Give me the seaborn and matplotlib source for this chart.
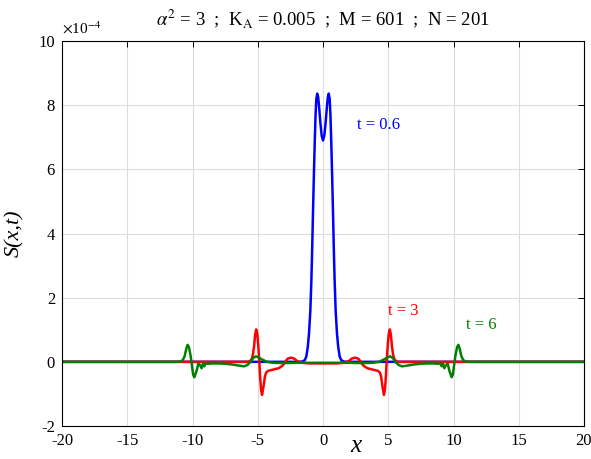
import matplotlib
matplotlib.use("Agg")
import matplotlib.pyplot as plt
import seaborn as sns
import pandas as pd

# ---- data (values in units of 1e-4) ----
x_t06 = [-20, -1.8, -1.6, -1.4, -1.28, -1.17, -1.07, -0.97, -0.89, -0.83, -0.77, -0.7, -0.63, -0.57,
         -0.51, -0.44, -0.37, -0.3, -0.2, -0.1, 0.0, 0.1, 0.2, 0.3, 0.37, 0.44, 0.51, 0.57, 0.63,
         0.7, 0.77, 0.83, 0.89, 0.97, 1.07, 1.17, 1.28, 1.4, 1.6, 1.8, 20]
s_t06 = [0, 0, 0.01, 0.05, 0.16, 0.45, 0.89, 1.6, 2.55, 3.5, 4.6, 5.8, 6.9, 7.7,
         8.2, 8.36, 8.25, 7.95, 7.45, 7.05, 6.9, 7.05, 7.45, 7.95, 8.25, 8.36, 8.2, 7.7, 6.9,
         5.8, 4.6, 3.5, 2.55, 1.6, 0.89, 0.45, 0.16, 0.05, 0.01, 0, 0]

x_t3 = [-20, -5.8, -5.6, -5.45, -5.36, -5.28, -5.2, -5.12, -5.03, -4.95, -4.88, -4.82, -4.75, -4.67,
        -4.55, -4.45, -4.35, -4.2, -3.8, -3.4, -3.1, -2.9, -2.7, -2.45, -2.2, -2.0, -1.6, -1.0,
        0.0, 1.0, 1.6, 2.0, 2.2, 2.45, 2.7, 2.9, 3.1, 3.4, 3.8, 4.2, 4.35, 4.45, 4.55, 4.67,
        4.75, 4.82, 4.88, 4.95, 5.03, 5.12, 5.2, 5.28, 5.36, 5.45, 5.6, 5.8, 20]
s_t3 = [0, 0, 0.02, 0.1, 0.25, 0.5, 0.85, 1.01, 0.85, 0.45, 0.0, -0.45, -0.85, -1.03,
        -0.75, -0.45, -0.33, -0.28, -0.24, -0.2, -0.12, 0.0, 0.1, 0.13, 0.1, 0.03, -0.03, -0.05,
        -0.05, -0.05, -0.03, 0.03, 0.1, 0.13, 0.1, 0.0, -0.12, -0.2, -0.24, -0.28, -0.33, -0.45, -0.75, -1.03,
        -0.85, -0.45, 0.0, 0.45, 0.85, 1.01, 0.85, 0.5, 0.25, 0.1, 0.02, 0, 0]

x_t6 = [-20, -11.3, -10.95, -10.75, -10.6, -10.47, -10.37, -10.27, -10.15, -10.05, -9.95, -9.86,
        -9.7, -9.55, -9.4, -9.3, -9.2, -9.1, -9.0, -8.8, -8.5, -8.0, -7.5, -7.0, -6.4, -6.05, -5.8,
        -5.55, -5.35, -5.15, -5.0, -4.7, -4.3, -3.8, -3.0, -2.0, -1.0, 0.0,
        1.0, 2.0, 3.0, 3.8, 4.3, 4.7, 5.0, 5.15, 5.35, 5.55, 5.8, 6.05, 6.4, 7.0, 7.5, 8.0, 8.5,
        8.8, 9.0, 9.1, 9.2, 9.3, 9.4, 9.55, 9.7, 9.86, 9.95, 10.05, 10.15, 10.27, 10.37, 10.47,
        10.6, 10.75, 10.95, 11.3, 20]
s_t6 = [0, 0, 0.01, 0.05, 0.18, 0.42, 0.53, 0.45, 0.2, -0.1, -0.4, -0.48,
        -0.3, -0.05, -0.12, -0.2, -0.06, -0.14, -0.05, -0.06, -0.05, -0.05, -0.06, -0.08, -0.12, -0.14, -0.1,
        0.0, 0.12, 0.17, 0.15, 0.08, 0.0, -0.03, -0.04, -0.03, -0.03, -0.03,
        -0.03, -0.03, -0.04, -0.03, 0.0, 0.08, 0.15, 0.17, 0.12, 0.0, -0.1, -0.14, -0.12, -0.08, -0.06, -0.05, -0.05,
        -0.06, -0.05, -0.14, -0.06, -0.2, -0.12, -0.05, -0.3, -0.48, -0.4, -0.1, 0.2, 0.45, 0.53, 0.42,
        0.18, 0.05, 0.01, 0, 0]

labels = ["t = 0.6", "t = 3", "t = 6"]
colors = ["#0000ff", "#ff0000", "#008000"]
x_ticks = [-20, -15, -10, -5, 0, 5, 10, 15, 20]
y_ticks = [-2, 0, 2, 4, 6, 8, 10]

df = pd.concat([
    pd.DataFrame({"x": x_t06, "S": s_t06, "t": labels[0]}),
    pd.DataFrame({"x": x_t3, "S": s_t3, "t": labels[1]}),
    pd.DataFrame({"x": x_t6, "S": s_t6, "t": labels[2]}),
], ignore_index=True)

sns.set_style("white")
plt.rcParams["font.family"] = ["Liberation Serif", "DejaVu Serif"]
plt.rcParams["mathtext.fontset"] = "stix"
plt.rcParams["text.color"] = "black"
plt.rcParams["axes.labelcolor"] = "black"

W, H = 591, 459
fig = plt.figure(figsize=(W / 100, H / 100), dpi=100)
ax = fig.add_axes([62 / W, 1 - 426 / H, (584 - 62) / W, (426 - 41) / H])

sns.lineplot(data=df, x="x", y="S", hue="t", hue_order=labels, palette=colors,
             estimator=None, sort=False, legend=False, linewidth=1.8, ax=ax)

ax.set_xlim(-20, 20)
ax.set_ylim(-2, 10)
ax.set_xticks(x_ticks)
ax.set_yticks(y_ticks)
ax.set_xticklabels([str(v) for v in x_ticks])
ax.set_yticklabels([str(v) for v in y_ticks])
ax.grid(True, color="#dcdcdc", linewidth=0.8)
ax.set_axisbelow(True)
ax.tick_params(direction="in", length=4, width=0.7, top=True, right=True,
               labelsize=12, pad=5, colors="black")
for sp in ax.spines.values():
    sp.set_visible(True)
    sp.set_color("black")
    sp.set_linewidth(0.8)

ax.set_xlabel("")
ax.text((356 - 62) / 522, (426 - 446) / 385, "x", transform=ax.transAxes,
        fontsize=18, fontstyle="italic", ha="center", va="center")
ax.set_ylabel("S(x,t)", fontsize=16, fontstyle="italic")
ax.yaxis.set_label_coords((24 - 62) / 522, 0.5)

ax.text(0.0, 1.012, r"$\times$10$^{-4}$",
        transform=ax.transAxes, fontsize=11, ha="left", va="bottom")

ax.set_title(r"$\alpha^{2}$ = 3  ;  K$_{\mathrm{A}}$ = 0.005  ;  M = 601  ;  N = 201",
             fontsize=13.5, pad=11)

ax.text(2.6, 7.38, labels[0], color=colors[0], fontsize=12, ha="left", va="center")
ax.text(5.0, 1.58, labels[1], color=colors[1], fontsize=12, ha="left", va="center")
ax.text(10.95, 1.14, labels[2], color=colors[2], fontsize=12, ha="left", va="center")

fig.savefig("out.png", dpi=100, facecolor="white")
